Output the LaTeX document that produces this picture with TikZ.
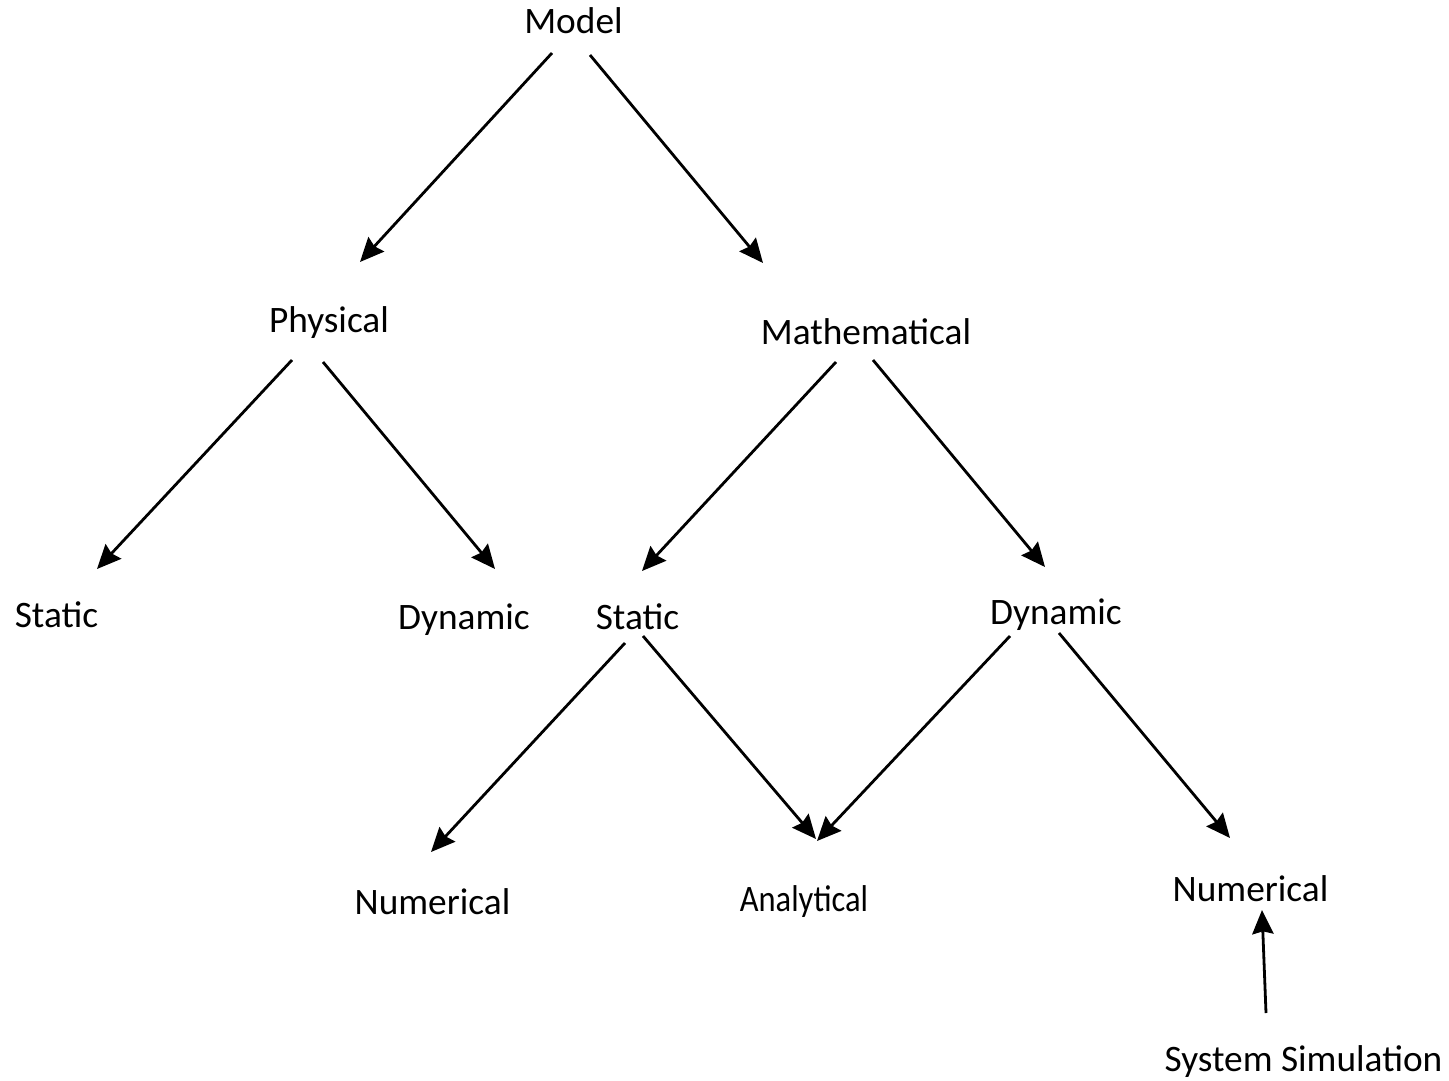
\documentclass[tikz,border=0pt]{standalone}
\usepackage{fontspec}
\setmainfont{Carlito}
\usetikzlibrary{arrows.meta,calc}
\tikzset{
  lbl/.style={inner sep=0pt, anchor=base, font=\fontsize{28pt}{32pt}\selectfont},
  arr/.style={line width=2.1pt, -{Stealth[length=18pt,width=16pt,inset=2pt]}}
}
\begin{document}
\begin{tikzpicture}[x=0.75pt,y=-0.75pt]
\useasboundingbox (0,0) rectangle (1449,1081);

% labels
\node[lbl] (model) at (573.5,34)  {Model};
\node[lbl] (phys)  at (329,332)   {Physical};
\node[lbl] (math)  at (866,344)   {Mathematical};
\node[lbl] (pst)   at (56.5,627)  {Static};
\node[lbl] (pdyn)  at (464,629)   {Dynamic};
\node[lbl] (mst)   at (637.5,629) {Static};
\node[lbl] (mdyn)  at (1056,624)  {Dynamic};
\node[lbl] (num1)  at (432.5,914) {Numerical};
\node[lbl] (anal)  at (804,911)   {\scalebox{0.87}[1]{Analytical}};
\node[lbl] (num2)  at (1250.5,901){Numerical};
\node[lbl] (sim)   at (1303.5,1071){System Simulation};

% connectors
\draw[arr] ($(model.base)+(-21.5,19)$) -- ($(phys.base)+(31,-70)$);
\draw[arr] ($(model.base)+(16.5,21)$)  -- ($(math.base)+(-103,-81)$);
\draw[arr] ($(phys.base)+(-37,28)$)    -- ($(pst.base)+(40.5,-58)$);
\draw[arr] ($(phys.base)+(-6,30)$)     -- ($(pdyn.base)+(31,-60)$);
\draw[arr] ($(math.base)+(-30,18)$)    -- ($(mst.base)+(4.5,-58)$);
\draw[arr] ($(math.base)+(7,16)$)      -- ($(mdyn.base)+(-11,-57)$);
\draw[arr] ($(mst.base)+(-12.5,14)$)   -- ($(num1.base)+(-1.5,-62)$);
\draw[arr] ($(mst.base)+(5.5,7)$)      -- ($(anal.base)+(12,-72)$);
\draw[arr] ($(mdyn.base)+(-46,12)$)    -- ($(anal.base)+(13,-70)$);
\draw[arr] ($(mdyn.base)+(3,9)$)       -- ($(num2.base)+(-20.5,-63)$);
\draw[arr] ($(sim.base)+(-37.5,-58)$)  -- ($(num2.base)+(11.5,9)$);
\end{tikzpicture}
\end{document}
